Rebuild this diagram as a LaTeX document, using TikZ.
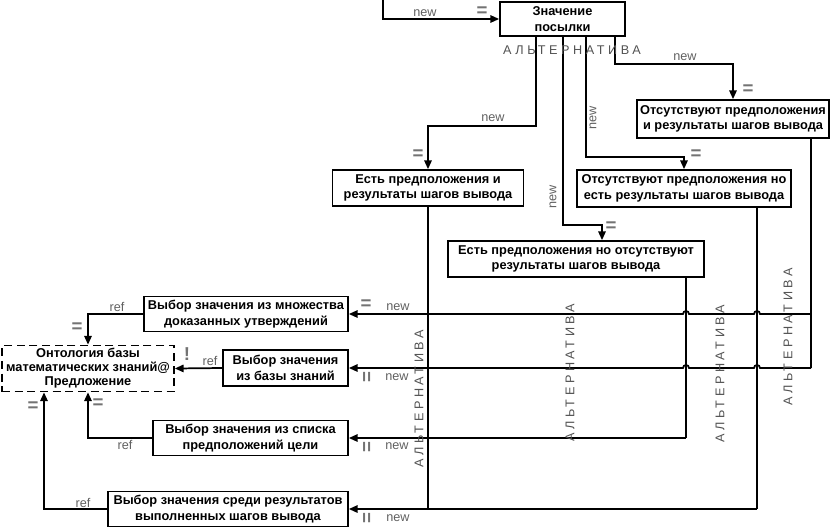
\documentclass[tikz,border=0pt]{standalone}
\usepackage{fontspec}
\setmainfont{Liberation Sans}
\newfontfamily\altfont[LetterSpace=28]{Liberation Sans}
\usetikzlibrary{arrows.meta}
\begin{document}
\begin{tikzpicture}[x=0.75pt,y=-0.75pt,
  box/.style={draw, line width=1.3pt, font=\bfseries\fontsize{9.6}{11.5}\selectfont, align=center, inner sep=0pt},
  dbox/.style={box, dash pattern=on 6pt off 3.5pt},
  ln/.style={line width=1.3pt},
  arr/.style={line width=1.3pt, -{Triangle[length=6.5pt,width=5.5pt]}},
  lbl/.style={text=black!62, font=\fontsize{9.5}{10}\selectfont, inner sep=0pt},
  eq/.style={text=black!55, font=\bfseries\fontsize{14}{14}\selectfont, inner sep=0pt},
  alt/.style={text=black!68, font=\altfont\fontsize{9.5}{10}\selectfont, inner sep=0pt}
]
\useasboundingbox (0,0) rectangle (834,529);

% boxes
\node[box, minimum width=93.75pt, minimum height=25.5pt] (B0) at (562.5,19) {Значение\\посылки};
\node[box, minimum width=144pt, minimum height=28.5pt] (B1) at (733,119) {Отсутствуют предположения\\и результаты шагов вывода};
\node[box, minimum width=160.5pt, minimum height=27.75pt] (B2) at (684,188.5) {Отсутствуют предположения но\\есть результаты шагов вывода};
\node[box, minimum width=143.25pt, minimum height=27pt] (B3) at (428,188) {Есть предположения и\\результаты шагов вывода};
\node[box, minimum width=192pt, minimum height=27pt] (B4) at (576,259) {Есть предположения но отсутствуют\\результаты шагов вывода};

\node[box, minimum width=153pt, minimum height=26.25pt] (C1) at (246,314) {Выбор значения из множества\\доказанных утверждений};
\node[box, minimum width=93.75pt, minimum height=27pt] (C2) at (285.5,368) {Выбор значения\\из базы знаний};
\node[box, minimum width=146.25pt, minimum height=26.25pt] (C3) at (250.5,438) {Выбор значения из списка\\предположений цели};
\node[box, minimum width=180pt, minimum height=26.25pt] (C4) at (228,509) {Выбор значения среди результатов\\выполненных шагов вывода};

\node[dbox, minimum width=129pt, minimum height=34.5pt, font=\bfseries\fontsize{9.6}{10.5}\selectfont] (O) at (88,368.5) {Онтология базы\\математических знаний@\\Предложение};

% helper coordinates
\coordinate (s0) at (383,0);
\coordinate (k1) at (536,0);
\coordinate (k2) at (563,0);
\coordinate (k3) at (586,0);
\coordinate (k4) at (615,0);
\coordinate (a4) at (602,0);
\coordinate (v686) at (686,0);
\coordinate (v757) at (757,0);
\coordinate (v811) at (811,0);
\coordinate (v44) at (44,0);

% top connectors
\draw[arr] (s0) |- (B0.west);
\draw[arr] (B0.south -| k1) -- (536,126) -| (B3.north);
\draw[arr] (B0.south -| k2) -- (563,225) -| (B4.north -| a4);
\draw[arr] (B0.south -| k3) -- (586,157) -| (B2.north);
\draw[arr] (B0.south -| k4) -- (615,64) -| (B1.north);

% vertical collectors
\draw[ln] (B1.south -| v811) -- (v811 |- C2.east);
\draw[ln] (B2.south -| v757) -- (v757 |- C4.east);
\draw[ln] (B4.south -| v686) -- (v686 |- C3.east);
\draw[ln] (B3.south) -- (B3.south |- C4.east);

% horizontals to choice boxes
\draw[arr] (v811 |- C1.east) -- (760,314) arc (0:-180:3) -- (689,314) arc (0:-180:3) -- (C1.east);
\draw[arr] (v811 |- C2.east) -- (760,368) arc (0:-180:3) -- (689,368) arc (0:-180:3) -- (C2.east);
\draw[arr] (v686 |- C3.east) -- (C3.east);
\draw[arr] (v757 |- C4.east) -- (C4.east);

% to ontology
\draw[arr] (C1.west) -| (O.north);
\draw[arr] (C2.west) -- (O.east);
\draw[arr] (C3.west) -| (O.south);
\draw[arr] (C4.west) -| (O.south -| v44);

% labels top
\node[lbl] at (425,13) {new};
\node[eq] at (482,12) {=};
\node[lbl] at (493,118) {new};
\node[eq] at (418,155) {=};
\node[lbl] at (685,57) {new};
\node[eq] at (748,90) {=};
\node[lbl, rotate=90] at (593,118) {new};
\node[eq] at (696,155) {=};
\node[lbl, rotate=90] at (553,197) {new};
\node[eq] at (611,227) {=};

% labels right of choice boxes
\node[eq] at (366,305) {=};
\node[lbl] at (398,307) {new};
\node[eq, rotate=90] at (368,377) {=};
\node[lbl] at (397,377) {new};
\node[eq, rotate=90] at (368,447) {=};
\node[lbl] at (397,446) {new};
\node[eq, rotate=90] at (368,518) {=};
\node[lbl] at (398,518) {new};

% labels left
\node[lbl] at (117,307) {ref};
\node[eq] at (77,328) {=};
\node[lbl] at (210,361) {ref};
\node[eq] at (187,354) {!};
\node[lbl] at (125,445) {ref};
\node[eq] at (98,404) {=};
\node[lbl] at (83,503) {ref};
\node[eq] at (33,407) {=};

% alternative labels
\node[alt] at (572,50) {АЛЬТЕРНАТИВА};
\node[alt, rotate=90] at (419,399) {АЛЬТЕРНАТИВА};
\node[alt, rotate=90] at (570,373) {АЛЬТЕРНАТИВА};
\node[alt, rotate=90] at (720,374) {АЛЬТЕРНАТИВА};
\node[alt, rotate=90] at (788,337) {АЛЬТЕРНАТИВА};
\end{tikzpicture}
\end{document}
